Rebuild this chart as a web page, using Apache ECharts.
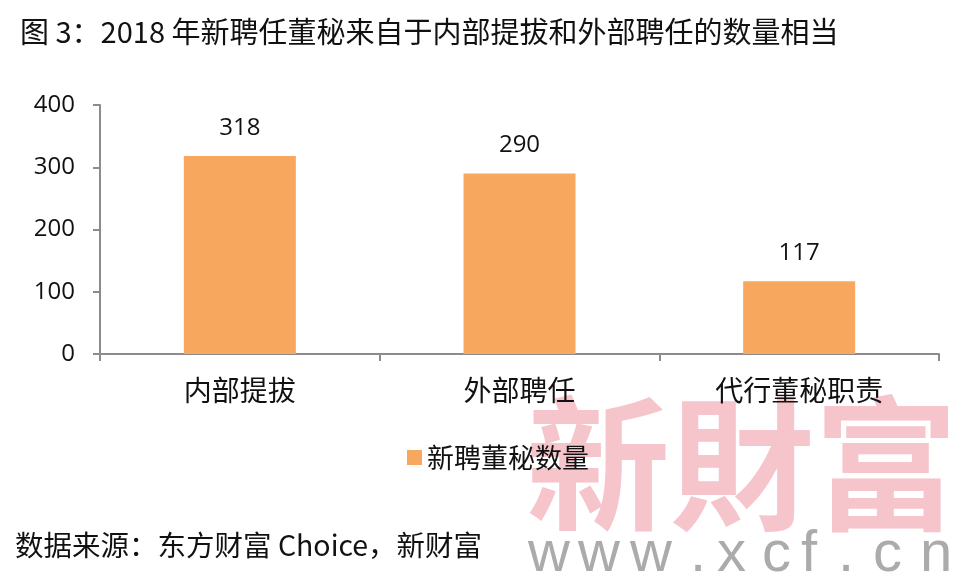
<!DOCTYPE html>
<html><head><meta charset="utf-8">
<script src="https://cdn.jsdelivr.net/npm/echarts@6/dist/echarts.min.js"></script>
<style>html,body{margin:0;padding:0;background:#fff}#c{width:954px;height:574px}</style>
</head><body><div id="c"></div>
<script>
const categories = ['内部提拔', '外部聘任', '代行董秘职责'];
const values = [318, 290, 117];
const seriesName = '新聘董秘数量';
const yTicks = [0, 100, 200, 300, 400];

const chart = echarts.init(document.getElementById('c'));
const cjk = '"Noto Sans CJK SC", sans-serif';
const wmLetters = ['w', 'w', 'w', '.', 'x', 'c', 'f', '.', 'c', 'n'];
const wmX = [528, 578, 630, 690, 717, 762, 801, 838, 873, 920];
const wmGraphics = wmLetters.map((ch, i) => ({
  type: 'text', x: wmX[i], y: 526, z: -10, silent: true,
  style: { text: ch, font: '58px "Liberation Sans", sans-serif', fill: '#ABABAB' }
}));

chart.setOption({
  animation: false,
  backgroundColor: '#fff',
  title: {
    text: '图 3：2018 年新聘任董秘来自于内部提拔和外部聘任的数量相当',
    left: 15, top: 12,
    textStyle: { fontFamily: cjk, fontSize: 29, fontWeight: 'normal', color: '#111' }
  },
  legend: {
    data: [seriesName],
    left: 402, top: 439,
    icon: 'rect', itemWidth: 15, itemHeight: 15, itemGap: 6,
    textStyle: { fontFamily: cjk, fontSize: 27, color: '#111' }
  },
  grid: { left: 100, right: 15, top: 105, bottom: 220, containLabel: false },
  xAxis: {
    type: 'category', data: categories,
    axisLine: { lineStyle: { color: '#8c8c8c', width: 2 } },
    axisTick: { show: true, alignWithLabel: false, length: 7, lineStyle: { color: '#8c8c8c', width: 2 } },
    axisLabel: { fontFamily: cjk, fontSize: 28, color: '#111', margin: 22 }
  },
  yAxis: {
    type: 'value', min: yTicks[0], max: yTicks[yTicks.length - 1], interval: 100,
    axisLine: { show: true, lineStyle: { color: '#8c8c8c', width: 2 } },
    axisTick: { show: true, length: 7, lineStyle: { color: '#8c8c8c', width: 2 } },
    splitLine: { show: false },
    axisLabel: { fontFamily: '"Open Sans", sans-serif', fontSize: 24, color: '#111', margin: 25 }
  },
  series: [{
    name: seriesName, type: 'bar', data: values, barWidth: 112,
    itemStyle: { color: '#F7A75E' },
    label: { show: true, position: 'top', distance: 16, fontFamily: '"Open Sans", sans-serif', fontSize: 24, color: '#111' }
  }],
  graphic: [
    { type: 'text', left: 15, top: 531, z: 10,
      style: { text: '数据来源：东方财富 Choice，新财富', font: '28.5px "Noto Sans CJK SC", sans-serif', fill: '#111' } },
    { type: 'text', left: 526, top: 392, z: -10, silent: true,
      style: { text: '新財富', font: 'bold 144px "Noto Sans CJK TC", serif', fill: '#F6C4CB' } }
  ].concat(wmGraphics)
});
</script></body></html>
